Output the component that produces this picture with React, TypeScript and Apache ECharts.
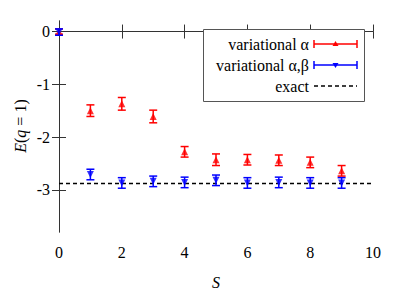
import React, { useEffect, useRef } from "react";
import * as echarts from "echarts";

const sValues = [0, 1, 2, 3, 4, 5, 6, 7, 8, 9];
const alphaMean = [0.0, -1.5, -1.37, -1.61, -2.28, -2.43, -2.43, -2.44, -2.48, -2.64];
const alphaErr = [0.05, 0.11, 0.12, 0.12, 0.1, 0.11, 0.1, 0.1, 0.1, 0.1];
const alphaBetaMean = [-0.01, -2.71, -2.87, -2.84, -2.86, -2.82, -2.87, -2.86, -2.87, -2.87];
const alphaBetaErr = [0.06, 0.1, 0.1, 0.1, 0.1, 0.1, 0.1, 0.1, 0.1, 0.1];
const exactValue = -2.88;
const xTicks = [0, 2, 4, 6, 8, 10];
const yTicks = [0, -1, -2, -3];
const legendLabels = ["variational α", "variational α,β", "exact"];

const FONT = "Times New Roman, Liberation Serif, serif";

function errorBarRender(color: string) {
  return (params: any, api: any) => {
    const x = api.value(0);
    const y = api.value(1);
    const e = api.value(2);
    const top = api.coord([x, y + e]);
    const bot = api.coord([x, y - e]);
    const hw = 4;
    const style = { stroke: color, lineWidth: 1.5 };
    return {
      type: "group",
      children: [
        { type: "line", shape: { x1: top[0], y1: top[1], x2: bot[0], y2: bot[1] }, style },
        { type: "line", shape: { x1: top[0] - hw, y1: top[1], x2: top[0] + hw, y2: top[1] }, style },
        { type: "line", shape: { x1: bot[0] - hw, y1: bot[1], x2: bot[0] + hw, y2: bot[1] }, style },
      ],
    };
  };
}

export default function App() {
  const ref = useRef<HTMLDivElement>(null);
  useEffect(() => {
    if (!ref.current) return;
    const chart = echarts.init(ref.current, null, { renderer: "svg" });
    const red = "#ff0000";
    const blue = "#0000ff";
    const alphaData = sValues.map((s, i) => [s, alphaMean[i], alphaErr[i]]);
    const abData = sValues.map((s, i) => [s, alphaBetaMean[i], alphaBetaErr[i]]);
    const axisLine = { show: true, lineStyle: { color: "#333", width: 1 } };
    const tick = { show: true, inside: true, length: 7, lineStyle: { color: "#333", width: 1 } };

    const lx1 = 314, lx2 = 357, lmid = 335.5;
    const rows = [44, 65, 86];
    const legendGraphic: any[] = [
      { type: "rect", shape: { x: 203.5, y: 29.5, width: 161, height: 72 }, style: { fill: "#fff", stroke: "#555", lineWidth: 1 }, z: 100 },
    ];
    legendLabels.forEach((t, i) => {
      legendGraphic.push({
        type: "text", x: 309, y: rows[i], z: 101,
        style: {
          rich: { a: { fontFamily: FONT, fontSize: 16, fill: "#000" } },
          text: `{a|${t}}`, textAlign: "right", textVerticalAlign: "middle",
        },
      });
    });
    [red, blue].forEach((c, i) => {
      const y = rows[i];
      const st = { stroke: c, lineWidth: 1.5 };
      legendGraphic.push(
        { type: "line", z: 101, shape: { x1: lx1, y1: y, x2: lx2, y2: y }, style: st },
        { type: "line", z: 101, shape: { x1: lx1, y1: y - 4, x2: lx1, y2: y + 4 }, style: st },
        { type: "line", z: 101, shape: { x1: lx2, y1: y - 4, x2: lx2, y2: y + 4 }, style: st },
        {
          type: "polygon", z: 102,
          shape: { points: i === 0 ? [[lmid - 3, y + 2], [lmid + 3, y + 2], [lmid, y - 3]] : [[lmid - 3, y - 2], [lmid + 3, y - 2], [lmid, y + 3]] },
          style: { fill: c },
        }
      );
    });
    legendGraphic.push({
      type: "line", z: 101, shape: { x1: lx1, y1: rows[2], x2: lx2, y2: rows[2] },
      style: { stroke: "#000", lineWidth: 1.5, lineDash: [4, 3] },
    });

    chart.setOption({
      animation: false,
      textStyle: { fontFamily: FONT },
      grid: { left: 59, right: 26, top: 21, bottom: 67 },
      xAxis: [
        {
          type: "value", min: 0, max: 10, interval: 2, position: "bottom",
          axisLine, axisTick: tick, splitLine: { show: false },
          axisLabel: { color: "#000", fontFamily: FONT, fontSize: 16, margin: 12 },
          name: "S", nameLocation: "middle", nameGap: 42,
          nameTextStyle: { fontFamily: FONT, fontSize: 16, fontStyle: "italic", color: "#000" },
        },
        {
          type: "value", min: 0, max: 10, interval: 2, position: "top",
          axisLine, axisTick: tick, axisLabel: { show: false }, splitLine: { show: false },
        },
      ],
      yAxis: [
        {
          type: "value", min: -3.8, max: 0.2, position: "left",
          axisLine, splitLine: { show: false },
          axisTick: { ...tick, customValues: yTicks },
          axisLabel: { customValues: yTicks, color: "#000", fontFamily: FONT, fontSize: 16, margin: 9 },
        },
        {
          type: "value", min: -3.8, max: 0.2, position: "right",
          axisLine, splitLine: { show: false },
          axisTick: { ...tick, customValues: yTicks },
          axisLabel: { show: false, customValues: yTicks },
        },
      ],
      graphic: [
        {
          type: "text", x: 20, y: 126, rotation: Math.PI / 2, z: 50,
          style: {
            rich: {
              i: { fontFamily: FONT, fontSize: 16, fontStyle: "italic", fill: "#000" },
              n: { fontFamily: FONT, fontSize: 16, fill: "#000" },
            },
            text: "{i|E}{n|(}{i|q}{n| = 1)}",
            textAlign: "center", textVerticalAlign: "middle",
          },
        },
        ...legendGraphic,
      ],
      series: [
        {
          type: "line", data: [[xTicks[0], exactValue], [xTicks[xTicks.length - 1], exactValue]],
          symbol: "none", lineStyle: { color: "#000", width: 1.5, type: [4, 3] }, z: 1,
          xAxisIndex: 0, yAxisIndex: 0,
        },
        {
          type: "custom", data: alphaData, renderItem: errorBarRender(red), z: 2,
          encode: { x: 0, y: 1 }, clip: false,
        },
        {
          type: "scatter", data: alphaData.map((d) => [d[0], d[1]]), symbol: "triangle", symbolSize: 7,
          itemStyle: { color: red }, z: 3,
        },
        {
          type: "custom", data: abData, renderItem: errorBarRender(blue), z: 4,
          encode: { x: 0, y: 1 }, clip: false,
        },
        {
          type: "scatter", data: abData.map((d) => [d[0], d[1]]), symbol: "triangle", symbolRotate: 180, symbolSize: 7,
          itemStyle: { color: blue }, z: 5,
        },
      ],
    });
    return () => chart.dispose();
  }, []);
  return <div ref={ref} style={{ width: 399, height: 299, position: "absolute", left: 0, top: 0 }} />;
}
